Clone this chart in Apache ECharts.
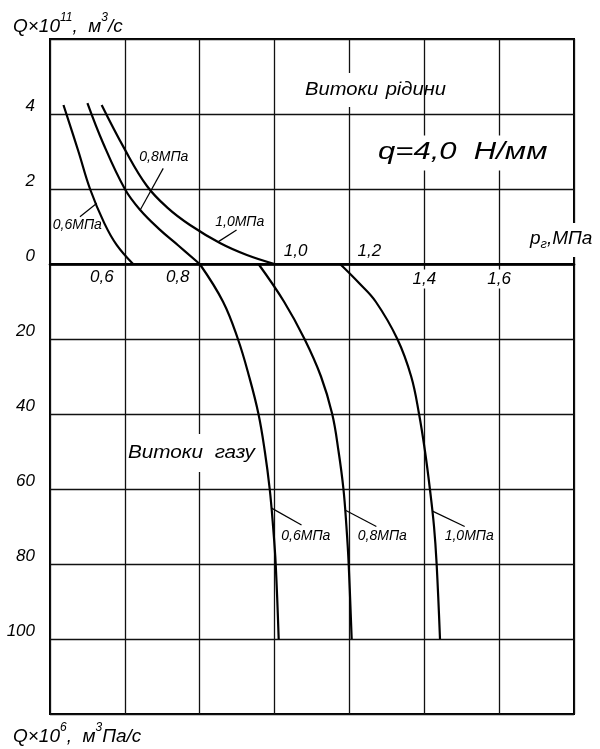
<!DOCTYPE html>
<html><head><meta charset="utf-8">
<script src="https://cdn.jsdelivr.net/npm/echarts@6/dist/echarts.min.js"></script>
<style>html,body{margin:0;padding:0;background:#fff}#c{width:600px;height:749px}</style>
</head><body><div id="c"></div>
<script>
const FONT = '"Liberation Sans", "DejaVu Sans", sans-serif';

// ---- axis ticks ----
const xTickValues = [0.6, 0.8, 1.0, 1.2, 1.4, 1.6];
const xTickLabels = ['0,6', '0,8', '1,0', '1,2', '1,4', '1,6'];
const yUpperTicks = [0, 2, 4];      // Q×10^11, м³/с
const yLowerTicks = [20, 40, 60, 80, 100]; // Q×10^6, м³Па/с

// ---- Витоки рідини (Q×10^11, м³/с) ----
const liq06P = [0.436, 0.476, 0.507, 0.545, 0.578, 0.622];
const liq06Q = [4.24, 3.00, 2.00, 1.09, 0.51, 0.00];
const liq08P = [0.500, 0.542, 0.600, 0.641, 0.694, 0.742, 0.800];
const liq08Q = [4.29, 3.22, 2.00, 1.44, 0.91, 0.50, 0.00];
const liq10P = [0.538, 0.598, 0.659, 0.715, 0.774, 0.854, 0.926, 1.000];
const liq10Q = [4.24, 3.09, 2.08, 1.49, 1.04, 0.56, 0.24, 0.00];

// ---- Витоки газу (Q×10^6, м³Па/с) ----
const gas06P = [0.800, 0.862, 0.902, 0.932, 0.957, 0.974, 0.987, 0.996, 1.003, 1.011];
const gas06Q = [0, 10, 20, 30, 40, 50, 60, 70, 80, 100];
const gas08P = [0.957, 1.025, 1.080, 1.124, 1.154, 1.171, 1.184, 1.192, 1.198, 1.206];
const gas08Q = [0, 10, 20, 30, 40, 50, 60, 70, 80, 100];
const gas10P = [1.175, 1.225, 1.270, 1.328, 1.365, 1.386, 1.402, 1.415, 1.426, 1.433, 1.442];
const gas10Q = [0, 5, 10, 20, 30, 40, 50, 60, 70, 80, 100];

const curveNames = ['0,6МПа', '0,8МПа', '1,0МПа'];

// annotations (data coords): leader start on curve, leader end, label anchor
const upperNotes = [
  {line: [[0.525, 1.62], [0.480, 1.26]], label: [0.473, 1.03]},
  {line: [[0.641, 1.44], [0.7025, 2.55]], label: [0.704, 2.84]},
  {line: [[0.849, 0.59], [0.8985, 0.907]], label: [0.907, 1.11]}
];
const lowerNotes = [
  {line: [[0.992, 65.1], [1.072, 69.6]], label: [1.0835, 72.5]},
  {line: [[1.188, 65.6], [1.272, 70.0]], label: [1.288, 72.5]},
  {line: [[1.422, 65.9], [1.508, 70.0]], label: [1.520, 72.6]}
];

const zip = (a, b) => a.map((v, i) => [v, b[i]]);

const chart = echarts.init(document.getElementById('c'), null, {renderer: 'canvas'});

const gridLine = {show: true, lineStyle: {color: '#111', width: 1.3}};
const curveStyle = {color: '#000', width: 2.2};
const leaderStyle = {color: '#000', width: 1.2};

function curve(data, g) {
  return {type: 'line', xAxisIndex: g, yAxisIndex: g, data: data, smooth: 0.4,
    symbol: 'none', lineStyle: curveStyle, silent: true, z: 5};
}
function leader(pts, g) {
  return {type: 'line', xAxisIndex: g, yAxisIndex: g, data: pts, symbol: 'none',
    lineStyle: leaderStyle, silent: true, z: 5};
}

const series = [
  curve(zip(liq06P, liq06Q), 0), curve(zip(liq08P, liq08Q), 0), curve(zip(liq10P, liq10Q), 0),
  curve(zip(gas06P, gas06Q), 1), curve(zip(gas08P, gas08Q), 1), curve(zip(gas10P, gas10Q), 1)
];
upperNotes.forEach(n => series.push(leader(n.line, 0)));
lowerNotes.forEach(n => series.push(leader(n.line, 1)));

const yLabel = {
  show: true, color: '#000', fontSize: 17, fontStyle: 'italic', fontFamily: FONT,
  margin: 15, verticalAlign: 'bottom', lineHeight: 15
};

chart.setOption({
  backgroundColor: '#fff',
  animation: false,
  grid: [
    {left: 50, right: 26, top: 39, height: 225, show: true, borderColor: '#000', borderWidth: 2, containLabel: false},
    {left: 50, right: 26, top: 264, height: 450, show: true, borderColor: '#000', borderWidth: 2, containLabel: false}
  ],
  xAxis: [
    {type: 'value', gridIndex: 0, min: 0.4, max: 1.8, interval: 0.2, position: 'bottom',
     axisLine: {show: true, onZero: false, lineStyle: {color: '#000', width: 2.6}},
     axisTick: {show: false}, axisLabel: {show: false}, splitLine: gridLine},
    {type: 'value', gridIndex: 1, min: 0.4, max: 1.8, interval: 0.2,
     axisLine: {show: false}, axisTick: {show: false}, axisLabel: {show: false}, splitLine: gridLine}
  ],
  yAxis: [
    {type: 'value', gridIndex: 0, min: 0, max: 6, interval: 2,
     axisLine: {show: false}, axisTick: {show: false}, splitLine: gridLine,
     axisLabel: Object.assign({}, yLabel, {
       formatter: v => yUpperTicks.includes(v) ? String(v) : ''})},
    {type: 'value', gridIndex: 1, min: 0, max: 120, interval: 20, inverse: true,
     axisLine: {show: false}, axisTick: {show: false}, splitLine: gridLine,
     axisLabel: Object.assign({}, yLabel, {
       formatter: v => yLowerTicks.includes(v) ? String(v) : ''})}
  ],
  series: series
});

// ---- text annotations positioned through the axes ----
const px = (g, p) => chart.convertToPixel({gridIndex: g}, p);
const it = size => 'italic ' + size + 'px ' + FONT;
const graphics = [];

// x tick labels: offsets from the tick on the zero line
const xLabelDx = [-23, -22, 21, 20, 0, 0];
const xLabelDy = [13, 13, -13, -13, 15, 15];
xTickValues.forEach((v, i) => {
  const pt = px(0, [v, 0]);
  graphics.push({type: 'text', x: pt[0] + xLabelDx[i], y: pt[1] + xLabelDy[i], z: 10,
    style: {text: xTickLabels[i], font: it(17), fill: '#000', align: 'center', verticalAlign: 'middle',
      backgroundColor: xLabelDy[i] > 14 ? '#fff' : null, padding: [1, 0]}});
});

// curve labels
upperNotes.forEach((n, i) => {
  const pt = px(0, n.label);
  graphics.push({type: 'text', x: pt[0], y: pt[1], z: 10,
    style: {text: curveNames[i], font: it(14), fill: '#000', align: 'center', verticalAlign: 'middle'}});
});
lowerNotes.forEach((n, i) => {
  const pt = px(1, n.label);
  graphics.push({type: 'text', x: pt[0], y: pt[1], z: 10,
    style: {text: curveNames[i], font: it(14), fill: '#000', align: 'center', verticalAlign: 'middle'}});
});

const richT = {fontSize: 19, fontStyle: 'italic', fontFamily: FONT, lineHeight: 24, verticalAlign: 'bottom'};
const richS = {fontSize: 12, fontStyle: 'italic', fontFamily: FONT, verticalAlign: 'top'};

// titles and region notes
graphics.push(
  {type: 'text', left: 13, top: 12, z: 10, style: {
    text: '{t|Q×10}{s|11}{t|,  м}{s|3}{t|/с}', fill: '#000', rich: {t: richT, s: richS}}},
  {type: 'text', left: 13, top: 722, z: 10, style: {
    text: '{t|Q×10}{s|6}{t|,  м}{s|3}{t|Па/с}', fill: '#000', rich: {t: richT, s: richS}}},
  {type: 'text', x: 530, y: 240, z: 10, style: {
    text: '{t|p}{s|г}{t|,МПа}', fill: '#000', align: 'left', verticalAlign: 'middle',
    backgroundColor: '#fff', padding: [6, 0],
    rich: {t: {fontSize: 19, fontStyle: 'italic', fontFamily: FONT, lineHeight: 22, verticalAlign: 'top'},
           s: {fontSize: 13, fontStyle: 'italic', fontFamily: FONT, verticalAlign: 'bottom'}}}},
  {type: 'text', x: 305, y: 90, scaleX: 1.12, z: 10, style: {
    text: '{w|Витоки}  {t|рідини}', fill: '#000', align: 'left', verticalAlign: 'middle',
    rich: {w: {fontSize: 18, fontStyle: 'italic', fontFamily: FONT, backgroundColor: '#fff', padding: [8, 0]},
           t: {fontSize: 18, fontStyle: 'italic', fontFamily: FONT}}}},
  {type: 'text', x: 378, y: 153, scaleX: 1.35, z: 10, style: {
    text: 'q=4,0  Н/мм', font: it(23), fill: '#000', align: 'left', verticalAlign: 'middle',
    backgroundColor: '#fff', padding: [6, 0]}},
  {type: 'text', x: 128, y: 453, scaleX: 1.15, z: 10, style: {
    text: 'Витоки  газу', font: it(18), fill: '#000', align: 'left', verticalAlign: 'middle',
    backgroundColor: '#fff', padding: [10, 0]}}
);

chart.setOption({graphic: graphics});
</script>
</body></html>
